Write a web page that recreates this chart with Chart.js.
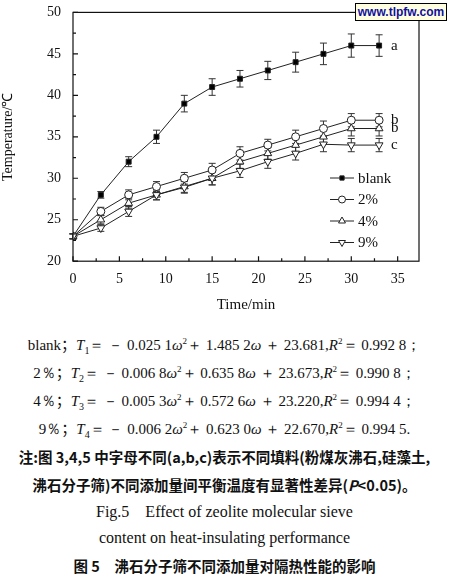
<!DOCTYPE html>
<html><head><meta charset="utf-8">
<script src="https://cdn.jsdelivr.net/npm/chart.js@4"></script>
<style>
body{margin:0;background:#fff;width:449px;height:576px;overflow:hidden;font-family:"Liberation Serif",serif;}
#wrap{position:relative;width:449px;height:318px;}
.t{position:absolute;left:0;width:449px;text-align:center;color:#111;white-space:nowrap;}
.eq{font-family:"Liberation Serif",serif;font-size:15px;}
.cn{font-family:"Noto Sans CJK SC",sans-serif;font-size:14.5px;font-weight:bold;}
.wm{position:absolute;left:355px;top:3px;width:90px;height:16px;border:1px solid #000;background:#ffffe0;color:#1010a0;font:bold 12px "Liberation Sans",sans-serif;text-align:center;line-height:16px;}
</style></head><body>
<div id="wrap"><canvas id="c" width="449" height="318"></canvas><div class="wm">www.tlpfw.com</div></div>
<div class="t eq" style="top:333px">blank<span style="font-family:'Noto Sans CJK SC'">；</span><i>T</i><sub style="font-size:10px">1</sub>＝ － 0.025 1<i>ω</i><sup style="font-size:9px">2</sup>＋ 1.485 2<i>ω</i> ＋ 23.681,<i>R</i><sup style="font-size:9px">2</sup>＝ 0.992 8；</div>
<div class="t eq" style="top:361px">2％<span style="font-family:'Noto Sans CJK SC'">；</span><i>T</i><sub style="font-size:10px">2</sub>＝ － 0.006 8<i>ω</i><sup style="font-size:9px">2</sup>＋ 0.635 8<i>ω</i> ＋ 23.673,<i>R</i><sup style="font-size:9px">2</sup>＝ 0.990 8；</div>
<div class="t eq" style="top:389px">4％<span style="font-family:'Noto Sans CJK SC'">；</span><i>T</i><sub style="font-size:10px">3</sub>＝ － 0.005 3<i>ω</i><sup style="font-size:9px">2</sup>＋ 0.572 6<i>ω</i> ＋ 23.220,<i>R</i><sup style="font-size:9px">2</sup>＝ 0.994 4；</div>
<div class="t eq" style="top:417px">9％<span style="font-family:'Noto Sans CJK SC'">；</span><i>T</i><sub style="font-size:10px">4</sub>＝ － 0.006 2<i>ω</i><sup style="font-size:9px">2</sup>＋ 0.623 0<i>ω</i> ＋ 22.670,<i>R</i><sup style="font-size:9px">2</sup>＝ 0.994 5.</div>
<div class="t cn" style="top:446px">注:图 3,4,5 中字母不同(a,b,c)表示不同填料(粉煤灰沸石,硅藻土,</div>
<div class="t cn" style="top:474px">沸石分子筛)不同添加量间平衡温度有显著性差异(<i>P</i>&lt;0.05)。</div>
<div class="t eq" style="top:502px;font-size:16px">Fig.5　Effect of zeolite molecular sieve</div>
<div class="t eq" style="top:529px;font-size:16px">content on heat-insulating performance</div>
<div class="t cn" style="top:555px">图 5　沸石分子筛不同添加量对隔热性能的影响</div>
<script>
const times=[0,3,6,9,12,15,18,21,24,27,30,33];
const blank=[23,28,32,35,39,41,42,43,44,45,46,46];
const p2=[23,26,28,29,30,31,33,34,35,36,37,37];
const p4=[23,25,27,28,29,30,32,33,34,35,36,36];
const p9=[23,24,26,28,28.9,30,30.9,32,33,34.1,34,34];
const eBlank=[0.3,0.4,0.6,0.8,1.0,1.0,1.0,1.1,1.2,1.3,1.4,1.3];
const e2=[0.3,0.5,0.6,0.6,0.7,0.8,0.8,0.7,0.8,0.9,0.8,0.8];
const e4=[0.3,0.5,0.6,0.6,0.7,0.8,0.8,0.7,0.8,0.9,0.9,0.9];
const e9=[0.3,0.4,0.6,0.6,0.7,0.8,0.8,0.8,0.8,0.9,0.8,0.8];
const names=["blank","2%","4%","9%"];
const letters=["a","b","b","c"];
const xTicks=[0,5,10,15,20,25,30,35];
const yTicks=[20,25,30,35,40,45,50];
const series=[blank,p2,p4,p9], errs=[eBlank,e2,e4,e9];
Chart.defaults.font.family='"Liberation Serif", serif';
const styles=[{ps:'rect',fill:'#000',r:3.5,rot:0},{ps:'circle',fill:'#fff',r:4,rot:0},{ps:'triangle',fill:'#fff',r:4.5,rot:0},{ps:'triangle',fill:'#fff',r:4.5,rot:180}];
const ds=series.map((s,i)=>({label:names[i],data:times.map((t,j)=>({x:t,y:s[j]})),borderColor:'#222',borderWidth:1,pointStyle:styles[i].ps,pointRotation:styles[i].rot,pointRadius:styles[i].r,pointBackgroundColor:styles[i].fill,pointBorderColor:'#222',pointBorderWidth:1,order:3-i}));
const deco={id:'deco',
 beforeDatasetsDraw(ch){const c=ch.ctx,x=ch.scales.x,y=ch.scales.y;c.save();c.strokeStyle='#333';c.lineWidth=1;
  errs.forEach((e,i)=>{times.forEach((t,j)=>{const px=x.getPixelForValue(t),a=y.getPixelForValue(series[i][j]-e[j]),b=y.getPixelForValue(series[i][j]+e[j]);c.beginPath();c.moveTo(px,a);c.lineTo(px,b);c.moveTo(px-3.5,a);c.lineTo(px+3.5,a);c.moveTo(px-3.5,b);c.lineTo(px+3.5,b);c.stroke();});});
  c.restore();},
 afterDraw(ch){const c=ch.ctx,x=ch.scales.x,y=ch.scales.y,a=ch.chartArea;c.save();c.strokeStyle='#111';c.lineWidth=1.2;c.strokeRect(a.left,a.top,a.right-a.left,a.bottom-a.top);
  c.beginPath();for(let v=0;v<=37;v+=2.5){const px=x.getPixelForValue(v),L=(v%5===0)?5:3;c.moveTo(px,a.bottom);c.lineTo(px,a.bottom-L);}
  for(let v=20;v<=50;v+=2.5){const py=y.getPixelForValue(v),L=(v%5===0)?5:3;c.moveTo(a.left,py);c.lineTo(a.left+L,py);}c.stroke();
  c.fillStyle='#111';c.font='15px "Liberation Serif"';c.textBaseline='middle';
  letters.forEach((l,i)=>c.fillText(l,x.getPixelForValue(33)+12,y.getPixelForValue(series[i][11])));
  c.font='15px "Liberation Serif"';
  names.forEach((n,i)=>{const ly=178+i*21.5,lx=330;c.strokeStyle='#222';c.lineWidth=1;c.beginPath();c.moveTo(lx,ly);c.lineTo(lx+24,ly);c.stroke();
   c.save();c.fillStyle=styles[i].fill;c.strokeStyle='#222';Chart.helpers.drawPoint(c,{pointStyle:styles[i].ps,radius:styles[i].r-0.5,rotation:styles[i].rot,borderWidth:1},lx+12,ly);c.restore();
   c.fillStyle='#111';c.fillText(n,lx+28,ly+1);});
  c.restore();}};
new Chart(document.getElementById('c'),{type:'line',data:{datasets:ds},
 options:{responsive:false,animation:false,events:[],layout:{padding:{top:1,right:30,left:0,bottom:0}},
  plugins:{legend:{display:false},tooltip:{enabled:false}},
  scales:{x:{type:'linear',min:0,max:37.3,afterBuildTicks:s=>{s.ticks=xTicks.map(v=>({value:v}));},grid:{display:false},border:{display:false},
     ticks:{color:'#111',font:{family:'"Liberation Serif"',size:14},padding:2},
     title:{display:true,text:'Time/min',color:'#111',font:{family:'"Liberation Serif"',size:15,weight:'normal'},padding:{top:6,bottom:4}}},
   y:{min:20,max:50,afterBuildTicks:s=>{s.ticks=yTicks.map(v=>({value:v}));},afterFit:s=>{s.width=73;},grid:{display:false},border:{display:false},
     ticks:{color:'#111',font:{family:'"Liberation Serif"',size:14},padding:4},
     title:{display:true,text:'Temperature/℃',color:'#111',font:{family:'"Liberation Serif"',size:14,weight:'normal'},padding:0}}}},
 plugins:[deco]});
</script>
</body></html>
